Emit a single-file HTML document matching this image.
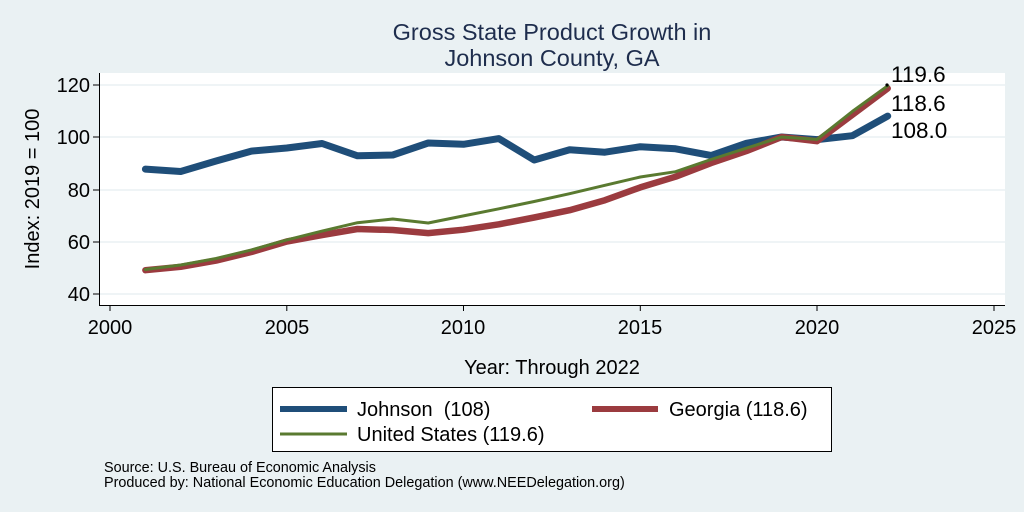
<!DOCTYPE html>
<html><head><meta charset="utf-8"><style>
html,body{margin:0;padding:0;background:#eaf1f3;}
svg{display:block;font-family:"Liberation Sans",Arial,sans-serif;}
</style></head><body>
<svg width="1024" height="512" viewBox="0 0 1024 512">
<rect width="1024" height="512" fill="#eaf1f3"/>
<text x="552" y="40" font-size="23.5" fill="#1e2d4d" text-anchor="middle">Gross State Product Growth in</text>
<text x="552" y="66" font-size="23.5" fill="#1e2d4d" text-anchor="middle">Johnson County, GA</text>
<rect x="99" y="73" width="906" height="232" fill="#ffffff"/>
<g stroke="#eaf1f3" stroke-width="1.5">
<line x1="99" y1="85" x2="1005" y2="85"/><line x1="99" y1="137" x2="1005" y2="137"/>
<line x1="99" y1="190" x2="1005" y2="190"/><line x1="99" y1="242" x2="1005" y2="242"/>
<line x1="99" y1="294" x2="1005" y2="294"/></g>
<g stroke="#000" stroke-width="1">
<line x1="99.5" y1="73" x2="99.5" y2="305"/><line x1="99" y1="305.5" x2="1005" y2="305.5"/>
<line x1="93" y1="85" x2="99" y2="85"/><line x1="93" y1="137" x2="99" y2="137"/><line x1="93" y1="190" x2="99" y2="190"/><line x1="93" y1="242" x2="99" y2="242"/><line x1="93" y1="294" x2="99" y2="294"/>
<line x1="110" y1="305" x2="110" y2="311"/><line x1="286.8" y1="305" x2="286.8" y2="311"/><line x1="463.5" y1="305" x2="463.5" y2="311"/><line x1="640.3" y1="305" x2="640.3" y2="311"/><line x1="817" y1="305" x2="817" y2="311"/><line x1="994" y1="305" x2="994" y2="311"/></g>
<g font-size="20" fill="#000" text-anchor="end">
<text x="90" y="92">120</text><text x="90" y="144">100</text><text x="90" y="197">80</text><text x="90" y="249">60</text><text x="90" y="301">40</text></g>
<g font-size="20" fill="#000" text-anchor="middle">
<text x="110" y="334">2000</text><text x="287" y="334">2005</text><text x="463" y="334">2010</text><text x="640" y="334">2015</text><text x="817" y="334">2020</text><text x="994" y="334">2025</text>
<text x="552" y="374">Year: Through 2022</text></g>
<text transform="translate(39,189) rotate(-90)" font-size="20" text-anchor="middle">Index: 2019 = 100</text>
<g fill="none" stroke-linejoin="round" stroke-linecap="round">
<polyline stroke="#1f4e79" stroke-width="7" points="145.4,169.1 180.7,171.5 216.1,161 251.4,151.1 286.8,148 322.1,143.5 357.5,155.8 392.8,155 428.2,143 463.5,144.3 498.9,138.6 534.2,160 569.6,149.8 604.9,152.2 640.3,146.7 675.6,148.8 711,155.5 746.3,143.3 781.7,137 817,139.6 852.4,135.7 887.7,116.1"/>
<polyline stroke="#9b3b3f" stroke-width="6.5" points="145.4,270.2 180.7,266.8 216.1,260.6 251.4,252 286.8,241.5 322.1,235 357.5,229 392.8,230 428.2,233.1 463.5,229.7 498.9,224.3 534.2,217.5 569.6,210.2 604.9,200.2 640.3,187.4 675.6,176.7 711,163.1 746.3,151.1 781.7,137 817,141.2 852.4,114.8 887.7,88.4"/>
<polyline stroke="#5a7a30" stroke-width="3" points="145.4,269.5 180.7,265 216.1,258.5 251.4,249.9 286.8,239.9 322.1,231.1 357.5,222.7 392.8,219 428.2,223 463.5,215.9 498.9,208.8 534.2,201.5 569.6,193.7 604.9,185.3 640.3,177 675.6,171.7 711,159.5 746.3,148.2 781.7,137 817,139.4 852.4,111.4 887.7,85.8"/>
</g>
<circle cx="887" cy="85" r="1.6" fill="#000"/>
<g font-size="22.5" fill="#000">
<text x="891" y="82">119.6</text><text x="891" y="111">118.6</text><text x="891" y="138">108.0</text></g>
<rect x="272.5" y="387.5" width="559" height="64" fill="#fff" stroke="#000" stroke-width="1"/>
<line x1="280" y1="409" x2="347" y2="409" stroke="#1f4e79" stroke-width="6"/>
<line x1="592" y1="409" x2="658" y2="409" stroke="#9b3b3f" stroke-width="6"/>
<line x1="280" y1="434" x2="347" y2="434" stroke="#5a7a30" stroke-width="3"/>
<g font-size="20" fill="#000">
<text x="357" y="416">Johnson&#160; (108)</text><text x="669" y="416">Georgia (118.6)</text><text x="357" y="441">United States (119.6)</text></g>
<g font-size="14.4" fill="#000">
<text x="104" y="472">Source: U.S. Bureau of Economic Analysis</text>
<text x="104" y="487">Produced by: National Economic Education Delegation (www.NEEDelegation.org)</text></g>
</svg>
</body></html>
